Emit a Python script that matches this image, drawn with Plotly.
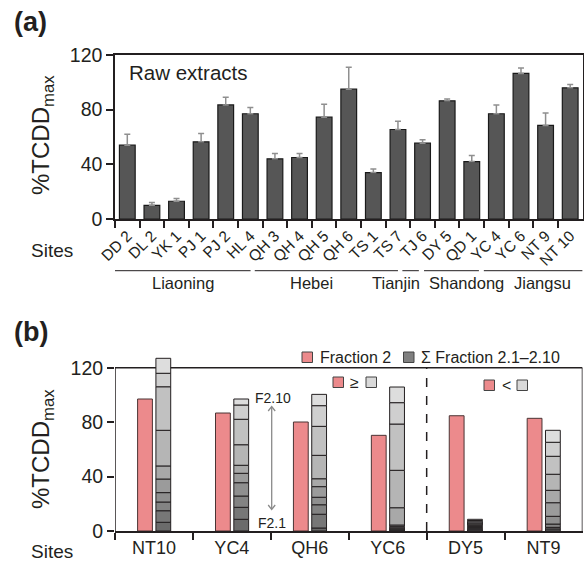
import numpy as np
import plotly.graph_objects as go

W, H = 584, 567
FONT = "Arial, Liberation Sans, sans-serif"
INK = "#231f20"

# ---------------- data: panel (a) ----------------
sites_a = ["DD 2", "DL 2", "YK 1", "PJ 1", "PJ 2", "HL 4", "QH 3", "QH 4", "QH 5", "QH 6",
           "TS 1", "TS 7", "TJ 6", "DY 5", "QD 1", "YC 4", "YC 6", "NT 9", "NT 10"]
raw_mean = [54, 10, 13, 56.5, 83.5, 77, 44, 45, 74.5, 95, 34, 65.5, 55.5, 86.5, 42, 77, 106.5, 68.5, 96]
raw_err = [8, 2, 2, 6, 5.5, 4.5, 4, 3, 9.5, 16, 2.5, 6, 2.5, 1.3, 4.5, 6.5, 4, 9, 2.5]
provinces = ["Liaoning", "Hebei", "Tianjin", "Shandong", "Jiangsu"]

# ---------------- data: panel (b) ----------------
sites_b = ["NT10", "YC4", "QH6", "YC6", "DY5", "NT9"]
fraction2 = [97, 86.7, 80.1, 70.3, 84.7, 82.8]
# sub-fractions F2.1 ... F2.10 per site
sub_nt10 = [6.4, 8.5, 6.4, 6.9, 10.0, 9.6, 26.2, 32.0, 9.9, 11.0]
sub_yc4 = [8.6, 8.8, 8.3, 9.8, 6.9, 5.9, 15.1, 18.7, 10.5, 4.4]
sub_qh6 = [2.2, 10.1, 7.0, 5.5, 7.8, 5.8, 17.2, 21.3, 15.2, 8.3]
sub_yc6 = [0.7, 0.8, 0.8, 0.9, 1.2, 12.7, 27.5, 34.0, 15.7, 11.5]
sub_dy5 = [0.9, 0.8, 0.8, 0.9, 0.8, 0.9, 0.8, 0.9, 0.9, 0.9]
sub_nt9 = [1.5, 1.2, 2.4, 5.7, 10.0, 9.1, 11.8, 13.2, 10.3, 8.8]
sub_labels = ["F2.%d" % k for k in range(1, 11)]
y_ticks = [0, 40, 80, 120]

sub_matrix = np.array([sub_nt10, sub_yc4, sub_qh6, sub_yc6, sub_dy5, sub_nt9])  # sites x fractions
sub_base = np.cumsum(sub_matrix, axis=1) - sub_matrix

gray_cols = ["#6b6b6b", "#777777", "#838383", "#8f8f8f", "#9b9b9b",
             "#a8a8a8", "#b5b5b5", "#c1c1c1", "#cfcfcf", "#dddddd"]
PINK = "#ec8a8c"


def px(x):
    return x / W


def py(y):
    return 1 - y / H


# panel (b) y scale: 0 at 531 px, 120 at 367.7 px; axis extended above the frame
B_Y0, B_Y120 = 531.0, 367.7
B_TOP = 132
b_top_px = B_Y0 - (B_Y0 - B_Y120) * B_TOP / 120.0

fig = go.Figure()

# panel (a)
fig.add_trace(go.Bar(
    x=sites_a, y=raw_mean, xaxis="x", yaxis="y", width=0.64,
    marker=dict(color="#565656", line=dict(color="#1a1a1a", width=1.2)),
    error_y=dict(type="data", symmetric=False, array=raw_err, arrayminus=[0] * len(raw_err),
                 color="#8f8f8f", thickness=1.5, width=3),
    showlegend=False, cliponaxis=False))

# panel (b)
fig.add_trace(go.Bar(
    x=sites_b, y=fraction2, xaxis="x2", yaxis="y2", offset=-0.21, width=0.19,
    marker=dict(color=PINK, line=dict(color="#4a3434", width=1)),
    showlegend=False))
for k in range(10):
    fig.add_trace(go.Bar(
        x=sites_b, y=sub_matrix[:, k], base=sub_base[:, k], xaxis="x2", yaxis="y2",
        offset=0.025, width=0.19, name=sub_labels[k],
        marker=dict(color=gray_cols[k], line=dict(color=INK, width=1)),
        showlegend=False))

axis_common = dict(linecolor=INK, linewidth=1.5,
                   ticks="outside", tickcolor=INK, tickwidth=1.5, showgrid=False,
                   zeroline=False, automargin=False)

fig.update_layout(
    width=W, height=H, margin=dict(l=0, r=0, t=0, b=0),
    paper_bgcolor="white", plot_bgcolor="white",
    barmode="overlay", font=dict(family=FONT, color=INK),
    xaxis=dict(domain=[px(115), px(582.5)], anchor="y", type="category", mirror=True,
               showline=True, range=[-0.5, len(sites_a) - 0.5], tickson="boundaries",
               ticklen=7, tickangle=-45, tickfont=dict(size=15.5), **axis_common),
    yaxis=dict(domain=[py(219), py(55)], anchor="x", range=[0, 120], mirror=True,
               showline=True, tickvals=y_ticks, ticklen=7, tickfont=dict(size=19.5),
               **axis_common),
    xaxis2=dict(domain=[px(115), px(582.5)], anchor="y2", type="category", mirror=False,
                showline=True, range=[-0.5, len(sites_b) - 0.5], tickson="boundaries",
                ticklen=7, tickfont=dict(size=18), layer="below traces", **axis_common),
    yaxis2=dict(domain=[py(B_Y0), py(b_top_px)], anchor="x2", range=[0, B_TOP], mirror=False,
                showline=False, tickvals=y_ticks, ticklen=7, tickfont=dict(size=19.5),
                layer="below traces", **axis_common),
)

ann = []
shapes = []

# frame of panel (b) closed at 120 (bars may rise above it)
nb = len(sites_b)
for (x0, x1, y0, y1) in [(-0.5, nb - 0.5, 120, 120), (nb - 0.5, nb - 0.5, 0, 120),
                         (-0.5, -0.5, 0, 120)]:
    shapes.append(dict(type="line", xref="x2", yref="y2", x0=x0, x1=x1, y0=y0, y1=y1,
                       layer="below", line=dict(color=INK, width=1.5)))


def text(x, y, s, size, xanchor="center", yanchor="middle", bold=False, angle=0, color=INK):
    ann.append(dict(x=px(x), y=py(y), xref="paper", yref="paper", text=s, showarrow=False,
                    xanchor=xanchor, yanchor=yanchor, textangle=angle,
                    font=dict(size=size, family=FONT, color=color,
                              weight="bold" if bold else "normal")))


text(12, 22, "(a)", 27, xanchor="left", bold=True)
text(12, 332, "(b)", 27, xanchor="left", bold=True)
text(42, 135, "%TCDD<sub>max</sub>", 24, angle=-90)
text(42, 449, "%TCDD<sub>max</sub>", 24, angle=-90)
text(52, 250, "Sites", 19)
text(52, 551, "Sites", 19)
text(127, 73, "Raw extracts", 20.5, xanchor="left")

# province group lines and labels (positions in category units of x axis)
prov_lines = [(-0.54, 5.01), (5.18, 11.0), (11.18, 11.85), (12.06, 14.29), (14.49, 18.51)]
prov_label_x = [182.5, 311.7, 396, 466, 542]
for name, (x0, x1), lx in zip(provinces, prov_lines, prov_label_x):
    shapes.append(dict(type="line", xref="x", yref="paper", x0=x0, x1=x1,
                       y0=py(270.7), y1=py(270.7), line=dict(color=INK, width=1)))
    text(lx, 283, name, 16.5)

# legend (b)
def square(x0, y0, color):
    shapes.append(dict(type="rect", xref="paper", yref="paper", x0=px(x0), x1=px(x0 + 10.5),
                       y0=py(y0 + 10.5), y1=py(y0), fillcolor=color,
                       line=dict(color="#444444", width=1)))


square(302, 352, PINK)
text(318, 357, "Fraction 2", 16, xanchor="left")
square(403.5, 352, "#808080")
text(419, 357, "Σ Fraction 2.1–2.10", 16, xanchor="left")

square(333, 377, PINK)
text(354, 382, "≥", 16)
square(366, 377, "#d9d9d9")
square(484, 380, PINK)
text(506, 385, "<", 16)
square(517, 380, "#d9d9d9")

# dashed separator between YC6 and DY5 groups
shapes.append(dict(type="line", xref="x2", yref="y2", x0=3.5, x1=3.5, y0=0, y1=120,
                   line=dict(color=INK, width=1.5, dash="dash")))

# double arrow F2.1 -> F2.10
ax_x = 271.7
acol = "#8a8a8a"
shapes.append(dict(type="path", xref="paper", yref="paper",
                   path="M %f,%f L %f,%f" % (px(ax_x), py(407), px(ax_x), py(509)),
                   line=dict(color=acol, width=1.3)))
shapes.append(dict(type="path", xref="paper", yref="paper",
                   path="M %f,%f L %f,%f L %f,%f" % (px(ax_x - 3.5), py(411), px(ax_x), py(406.5),
                                                    px(ax_x + 3.5), py(411)),
                   line=dict(color=acol, width=1.3)))
shapes.append(dict(type="path", xref="paper", yref="paper",
                   path="M %f,%f L %f,%f L %f,%f" % (px(ax_x - 3.5), py(505), px(ax_x), py(509.5),
                                                    px(ax_x + 3.5), py(505)),
                   line=dict(color=acol, width=1.3)))
text(273, 397.5, "F2.10", 14)
text(272, 522.5, "F2.1", 14)

fig.update_layout(annotations=ann, shapes=shapes)
fig.write_html("out.html", config={"displayModeBar": False},
               post_script="document.body.style.margin='0';document.body.style.overflow='hidden';")
